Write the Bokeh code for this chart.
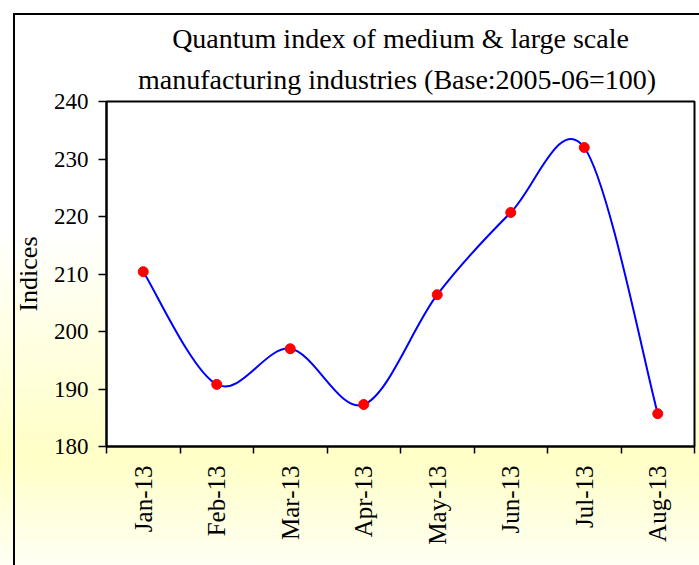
import numpy as np
from bokeh.plotting import figure
from bokeh.models import Range1d, FixedTicker, ColumnDataSource, Title
from bokeh.embed import file_html
from bokeh.resources import INLINE

months = ["Jan-13", "Feb-13", "Mar-13", "Apr-13", "May-13", "Jun-13", "Jul-13", "Aug-13"]
indices = [210.4, 190.8, 197.0, 187.3, 206.4, 220.7, 232.0, 185.7]
y_ticks = [180, 190, 200, 210, 220, 230, 240]

title_line1 = "Quantum index of medium & large scale"
title_line2 = "manufacturing  industries (Base:2005-06=100)"

xs = [i + 0.5 for i in range(len(months))]

# Smoothed line (Excel-like): Catmull-Rom segments expressed as cubic Bezier curves
n = len(xs)
seg = dict(x0=[], y0=[], x1=[], y1=[], cx0=[], cy0=[], cx1=[], cy1=[])
for i in range(n - 1):
    pxm, pym = (xs[i - 1], indices[i - 1]) if i > 0 else (xs[i], indices[i])
    px0, py0 = xs[i], indices[i]
    px1, py1 = xs[i + 1], indices[i + 1]
    pxp, pyp = (xs[i + 2], indices[i + 2]) if i + 2 < n else (xs[i + 1], indices[i + 1])
    seg["x0"].append(px0); seg["y0"].append(py0)
    seg["x1"].append(px1); seg["y1"].append(py1)
    seg["cx0"].append(px0 + (px1 - pxm) / 6.0); seg["cy0"].append(py0 + (py1 - pym) / 6.0)
    seg["cx1"].append(px1 - (pxp - px0) / 6.0); seg["cy1"].append(py1 - (pyp - py0) / 6.0)

FONT = "Liberation Serif"

p = figure(
    width=699, height=565,
    x_range=Range1d(0, len(months)), y_range=Range1d(180, 240),
    output_backend="svg", toolbar_location=None,
    min_border_left=106, min_border_right=5, min_border_top=101, min_border_bottom=119,
    title=None,
)

p.styles = {
    "background": (
        "linear-gradient(#000,#000) 13px 13px / 2px calc(100% - 13px) no-repeat, "
        "linear-gradient(#000,#000) 13px 13px / calc(100% - 13px) 2px no-repeat, "
        "linear-gradient(to bottom, #ffffff 0%, #ffffff 40%, #ffffc6 81%, #fffff4 100%)"
    )
}
p.border_fill_alpha = 0
p.background_fill_color = "white"
p.outline_line_color = "black"
p.outline_line_width = 2


def make_title(text, standoff):
    return Title(text=text, align="center", offset=10, text_font=FONT,
                 text_font_style="normal", text_font_size="28px",
                 text_color="black", standoff=standoff)


p.add_layout(make_title(title_line2, 14), "above")
p.add_layout(make_title(title_line1, 1), "above")

p.xgrid.visible = False
p.ygrid.visible = False

# x axis: tick marks between categories, labels at centres
p.xaxis.ticker = FixedTicker(ticks=xs, minor_ticks=list(range(len(months) + 1)))
p.xaxis.major_label_overrides = {x: m for x, m in zip(xs, months)}
p.xaxis.major_label_orientation = np.pi / 2
p.xaxis.major_tick_out = 0
p.xaxis.major_tick_in = 0
p.xaxis.minor_tick_out = 7
p.xaxis.minor_tick_in = 0
p.xaxis.minor_tick_line_color = "black"
p.xaxis.minor_tick_line_width = 1.5
p.xaxis.axis_line_color = "black"
p.xaxis.axis_line_width = 2
p.xaxis.major_label_standoff = 12
p.xaxis.major_label_text_font = FONT
p.xaxis.major_label_text_font_size = "25px"
p.xaxis.major_label_text_color = "black"

# y axis
p.yaxis.ticker = FixedTicker(ticks=y_ticks)
p.yaxis.minor_tick_line_color = None
p.yaxis.major_tick_out = 8
p.yaxis.major_tick_in = 0
p.yaxis.major_tick_line_color = "black"
p.yaxis.major_tick_line_width = 1.5
p.yaxis.axis_line_color = "black"
p.yaxis.axis_line_width = 2
p.yaxis.major_label_standoff = 10
p.yaxis.major_label_text_font = FONT
p.yaxis.major_label_text_font_size = "23px"
p.yaxis.major_label_text_color = "black"
p.yaxis.axis_label = "Indices"
p.yaxis.axis_label_text_font = FONT
p.yaxis.axis_label_text_font_style = "normal"
p.yaxis.axis_label_text_font_size = "26px"
p.yaxis.axis_label_text_color = "black"
p.yaxis.axis_label_standoff = 8

p.bezier(x0="x0", y0="y0", x1="x1", y1="y1", cx0="cx0", cy0="cy0", cx1="cx1", cy1="cy1",
         source=ColumnDataSource(seg), line_color="#0000ff", line_width=2)
p.scatter(xs, indices, size=10, fill_color="#ff0000", line_color="#ff0000")

open("out.html", "w").write(file_html(p, INLINE))
